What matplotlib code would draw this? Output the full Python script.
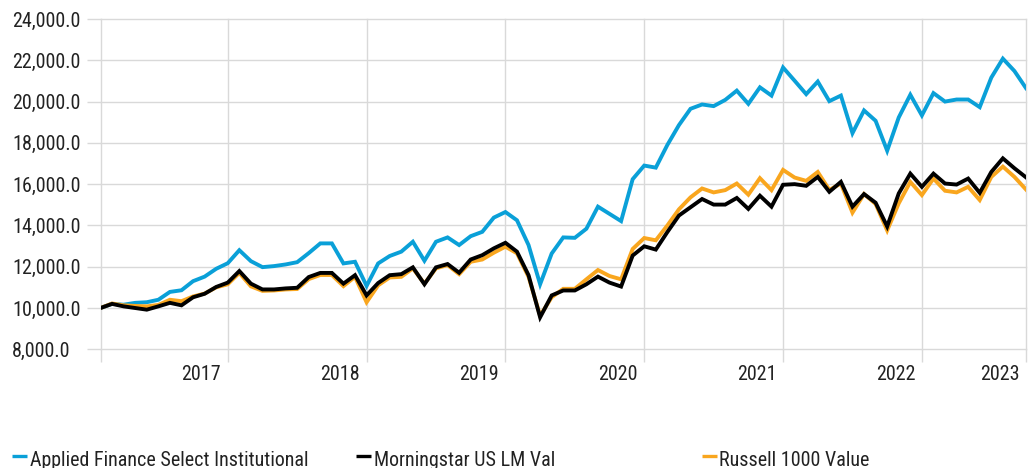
import matplotlib
matplotlib.use("Agg")
import matplotlib.pyplot as plt
import numpy as np
from matplotlib import font_manager
from matplotlib.lines import Line2D

# Growth of 10,000, monthly, Jan 2017 .. Sep 2023
applied_finance = [
    10000, 10200, 10160, 10250, 10280, 10400, 10780, 10860, 11300, 11520, 11900, 12170,
    12800, 12270, 11980, 12030, 12110, 12220, 12660, 13130, 13130, 12160, 12240, 11070,
    12160, 12520, 12730, 13210, 12290, 13210, 13420, 13050, 13480, 13690, 14380, 14650,
    14250, 13050, 11150, 12640, 13420, 13400, 13840, 14910, 14560, 14210, 16240, 16900,
    16800, 17900, 18860, 19650, 19860, 19780, 20080, 20530, 19890, 20690, 20290, 21650,
    21010, 20360, 20970, 20020, 20290, 18470, 19570, 19070, 17620, 19230, 20330, 19330,
    20410, 20000, 20100, 20100, 19730, 21160, 22080, 21480, 20650,
]
morningstar_lm_val = [
    10000, 10200, 10080, 10000, 9920, 10080, 10250, 10130, 10520, 10690, 11020, 11230,
    11790, 11180, 10900, 10900, 10950, 10980, 11500, 11700, 11700, 11180, 11590, 10610,
    11210, 11590, 11640, 11970, 11150, 11970, 12130, 11710, 12350, 12560, 12890, 13160,
    12730, 11590, 9550, 10610, 10850, 10850, 11150, 11520, 11230, 11040, 12540, 12990,
    12830, 13680, 14480, 14880, 15280, 15010, 15010, 15330, 14800, 15440, 14910, 15970,
    16000, 15920, 16350, 15630, 16110, 14910, 15520, 15100, 13950, 15550, 16510, 15870,
    16510, 16030, 15980, 16270, 15580, 16590, 17250, 16770, 16330,
]
russell_1000_value = [
    10000, 10220, 10130, 10100, 10080, 10150, 10400, 10330, 10560, 10700, 11000, 11150,
    11700, 11050, 10830, 10850, 10900, 10920, 11400, 11600, 11600, 11060, 11510, 10280,
    11100, 11480, 11510, 11920, 11180, 11920, 12080, 11640, 12240, 12350, 12680, 12970,
    12650, 11510, 9630, 10520, 10930, 10930, 11390, 11840, 11550, 11390, 12860, 13390,
    13280, 14000, 14780, 15360, 15790, 15600, 15710, 16030, 15490, 16290, 15710, 16690,
    16320, 16160, 16590, 15720, 16030, 14620, 15520, 15040, 13760, 15070, 16110, 15470,
    16270, 15680, 15600, 15870, 15230, 16350, 16850, 16350, 15740,
]
year_labels = ["2017", "2018", "2019", "2020", "2021", "2022", "2023"]
year_end_idx = [11, 23, 35, 47, 59, 71, 80]  # month index where each year's period ends
series_names = ["Applied Finance Select Institutional", "Morningstar US LM Val", "Russell 1000 Value"]

BLUE = "#0aa0d8"
ORANGE = "#f9a61e"
BLACK = "#000000"
GRID = "#d9d9d9"
TEXT = "#222222"

names = {f.name for f in font_manager.fontManager.ttflist}
family = next(
    (f for f in ["Liberation Sans Narrow", "Roboto Condensed", "Open Sans Condensed", "Liberation Sans"] if f in names),
    "DejaVu Sans",
)
plt.rcParams["font.family"] = [family, "DejaVu Sans"]
FS = 14.4

W, H = 1035, 468
fig = plt.figure(figsize=(W / 100, H / 100), dpi=100)
left, right, top, bottom = 100.5, 1026, 19, 349.3
ax = fig.add_axes([left / W, 1 - bottom / H, (right - left) / W, (bottom - top) / H])

x = np.arange(len(applied_finance))
ax.plot(x, applied_finance, color=BLUE, lw=2.8, solid_joinstyle="miter", zorder=3)
ax.plot(x, russell_1000_value, color=ORANGE, lw=2.8, solid_joinstyle="miter", zorder=3)
ax.plot(x, morningstar_lm_val, color=BLACK, lw=2.8, solid_joinstyle="miter", zorder=4)

ax.set_xlim(0, len(x) - 1)
ax.set_ylim(8000, 24000)
for s in ax.spines.values():
    s.set_visible(False)

ax.set_yticks(np.arange(8000, 24001, 2000))
ax.set_yticklabels([f"{v:,.1f}" for v in np.arange(8000, 24001, 2000)])
ax.set_xticks([0] + year_end_idx)
ax.tick_params(axis="y", length=10, width=1.0, color=GRID, pad=53.6,
               labelsize=FS, labelcolor=TEXT)
ax.tick_params(axis="x", length=9, width=1.0, color=GRID, labelbottom=False)
for lbl in ax.get_yticklabels():
    lbl.set_horizontalalignment("left")

ax.grid(True, color=GRID, lw=1.0)
for gl in ax.get_xgridlines() + ax.get_ygridlines():
    gl.set_clip_on(False)
ax.set_axisbelow(True)

for lab, idx in zip(year_labels, year_end_idx):
    ax.annotate(lab, xy=(idx, 0), xycoords=("data", "axes fraction"),
                xytext=(-4.8, -22.3), textcoords="offset points",
                ha="right", va="baseline", fontsize=FS, color=TEXT)

# legend drawn by hand along the bottom edge
leg_x = [12, 356, 701.5]
for lx, name, col in zip(leg_x, series_names, [BLUE, BLACK, ORANGE]):
    fig.add_artist(Line2D([lx / W, (lx + 15) / W], [1 - 456 / H] * 2,
                          transform=fig.transFigure, color=col, lw=2.4,
                          solid_capstyle="butt"))
    fig.text((lx + 17.5) / W, 1 - 466 / H, name, fontsize=FS, color=TEXT,
             ha="left", va="baseline")

fig.savefig("out.png", dpi=100)
